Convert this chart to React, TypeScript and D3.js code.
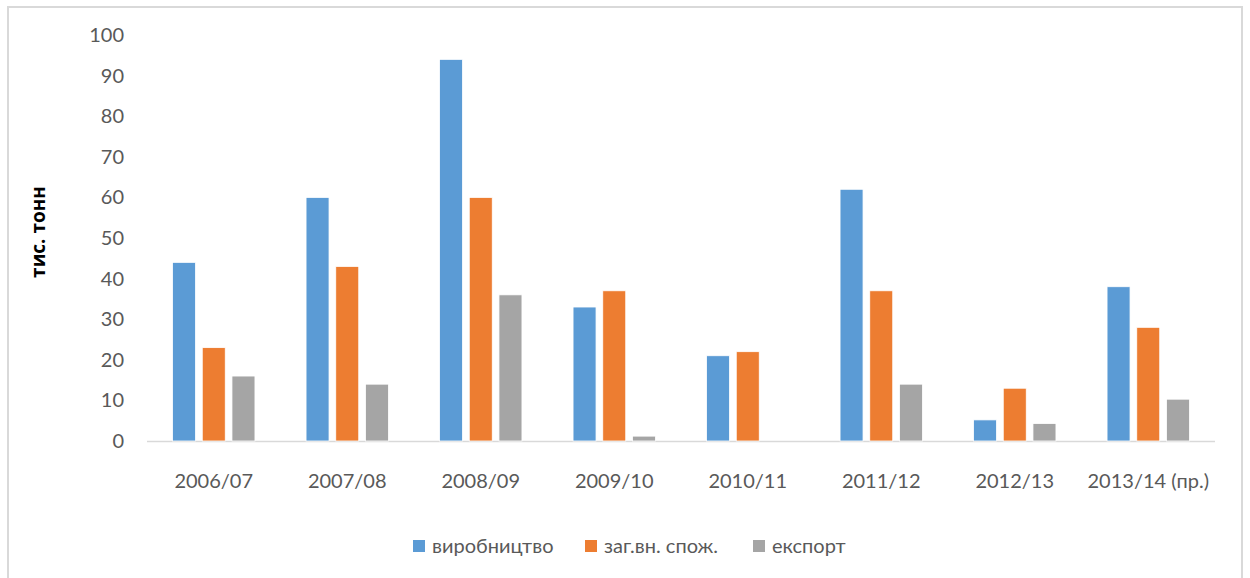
import React from "react";
import * as d3 from "d3";

const categories = ["2006/07", "2007/08", "2008/09", "2009/10", "2010/11", "2011/12", "2012/13", "2013/14 (пр.)"];
const seriesNames = ["виробництво", "заг.вн. спож.", "експорт"];
const production = [44, 60, 94, 33, 21, 62, 5.2, 38];
const consumption = [23, 43, 60, 37, 22, 37, 13, 28];
const exportVals = [16, 14, 36, 1.2, 0, 14, 4.3, 10.3];
const yTicks = [0, 10, 20, 30, 40, 50, 60, 70, 80, 90, 100];
const colors = ["#5B9BD5", "#ED7D31", "#A5A5A5"];
const yTitle = "тис. тонн";

const W = 1250;
const H = 578;

export default function App() {
  const seriesValues = [production, consumption, exportVals];
  const x = d3.scaleBand<string>().domain(categories).range([147, 1215]).paddingInner(0).paddingOuter(0);
  const inner = d3
    .scaleBand<string>()
    .domain(seriesNames)
    .range([0, x.bandwidth()])
    .paddingInner(0.226)
    .paddingOuter(0.86);
  const y = d3.scaleLinear().domain([0, 100]).range([441, 35]);
  const font = "Lato, 'Open Sans', sans-serif";
  const textColor = "#595959";

  const legendItems = [
    { name: seriesNames[0], x: 413 },
    { name: seriesNames[1], x: 585 },
    { name: seriesNames[2], x: 753 },
  ];

  return (
    <svg
      width={W}
      height={H}
      style={{ position: "absolute", left: 0, top: 0, background: "#fff" }}
    >
      <rect x={8} y={7} width={1234} height={600} fill="#fff" stroke="#D9D9D9" strokeWidth={2} />
      {yTicks.map((t) => (
        <text
          key={t}
          x={124}
          y={y(t)}
          dy="0.35em"
          textAnchor="end"
          fontFamily={font}
          fontSize={20}
          fill={textColor}
        >
          {t}
        </text>
      ))}
      <line x1={147} x2={1215} y1={y(0) + 0.5} y2={y(0) + 0.5} stroke="#D9D9D9" strokeWidth={1.5} />
      {categories.map((c, i) => (
        <g key={c} transform={`translate(${x(c)},0)`}>
          {seriesNames.map((s, j) => {
            const v = seriesValues[j][i];
            if (!v) return null;
            return (
              <rect
                key={s}
                x={inner(s)}
                y={y(v)}
                width={inner.bandwidth()}
                height={y(0) - y(v)}
                fill={colors[j]}
                stroke="#fff"
                strokeWidth={0.8}
              />
            );
          })}
          <text
            x={x.bandwidth() / 2}
            y={481}
            dy="0.35em"
            textAnchor="middle"
            fontFamily={font}
            fontSize={20}
            fill={textColor}
          >
            {c}
          </text>
        </g>
      ))}
      <text
        transform={`translate(38,232) rotate(-90)`}
        textAnchor="middle"
        dy="0.35em"
        fontFamily="'Open Sans', Lato, sans-serif"
        fontWeight="bold"
        fontSize={19}
        fill="#000"
      >
        {yTitle}
      </text>
      {legendItems.map((it, j) => (
        <g key={it.name} transform={`translate(${it.x},540)`}>
          <rect x={0} y={0} width={12} height={12} fill={colors[j]} />
          <text x={19} y={6} dy="0.35em" fontFamily={font} fontSize={20} fill={textColor}>
            {it.name}
          </text>
        </g>
      ))}
    </svg>
  );
}
